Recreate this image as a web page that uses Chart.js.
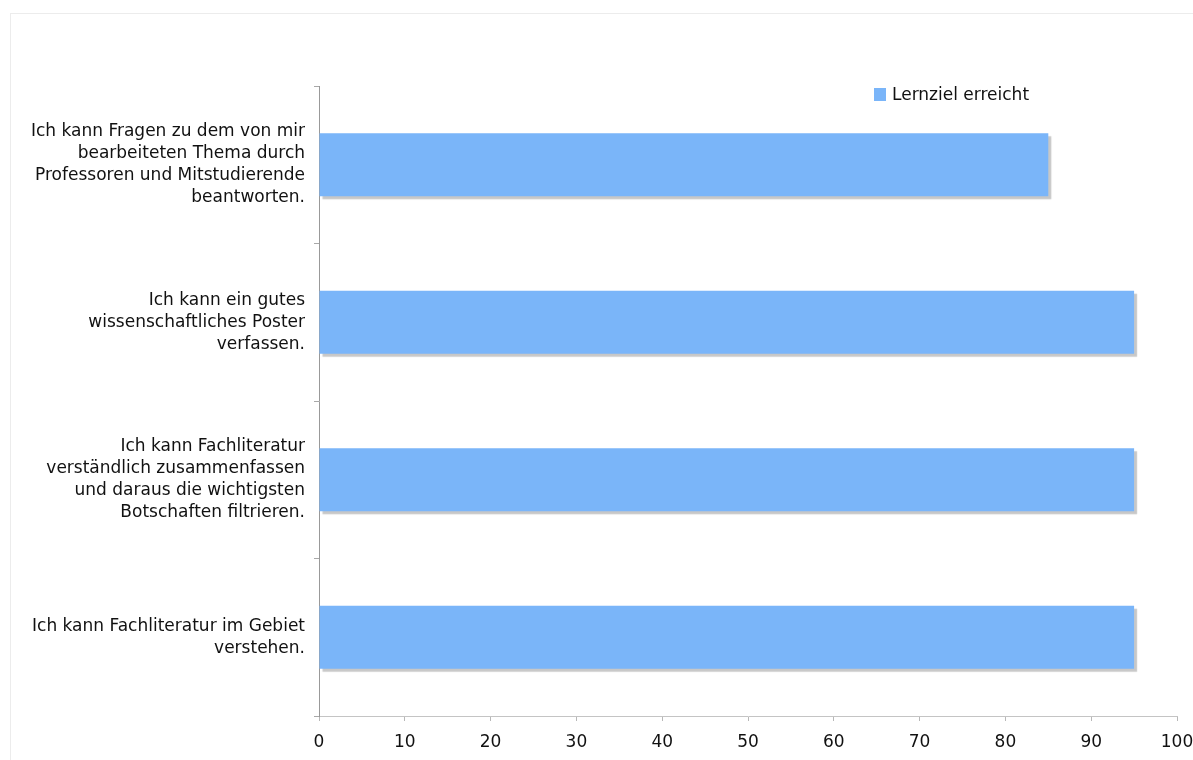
<!DOCTYPE html>
<html lang="de">
<head>
<meta charset="utf-8">
<title>Lernziele</title>
<script src="https://cdn.jsdelivr.net/npm/chart.js@4/dist/chart.umd.min.js"></script>
<style>
  html, body { margin: 0; padding: 0; background: #fff; }
  #rahmen { position: absolute; left: 10px; top: 13px; width: 1400px; height: 1000px; border: 1px solid #ececec; }
  #wrap { position: absolute; left: 0; top: 0; width: 1193px; height: 760px; }
  #legende { position: absolute; left: 874px; top: 84px; font: 17px "DejaVu Sans", Verdana, sans-serif; color: #111; display: flex; align-items: center; }
  #legende span.box { display: inline-block; width: 12px; height: 13px; margin-right: 6px; }
</style>
</head>
<body>
<div id="rahmen"></div>
<div id="wrap"><canvas id="grafik" width="1193" height="760"></canvas></div>
<div id="legende"></div>
<script>
const kategorien = [
  ['Ich kann Fragen zu dem von mir', 'bearbeiteten Thema durch', 'Professoren und Mitstudierende', 'beantworten.'],
  ['Ich kann ein gutes', 'wissenschaftliches Poster', 'verfassen.'],
  ['Ich kann Fachliteratur', 'verständlich zusammenfassen', 'und daraus die wichtigsten', 'Botschaften filtrieren.'],
  ['Ich kann Fachliteratur im Gebiet', 'verstehen.']
];
const erreicht = [85, 95, 95, 95];
const serienName = 'Lernziel erreicht';
const farbe = '#7ab5f9';

const schrift = { family: '"DejaVu Sans", Verdana, sans-serif', size: 17 };

// Schatten unter den Balken
const schatten = {
  id: 'schatten',
  beforeDatasetsDraw(chart) {
    const c = chart.ctx;
    c.save();
    c.shadowColor = 'rgba(0,0,0,0.22)';
    c.shadowOffsetX = 3;
    c.shadowOffsetY = 3;
    c.shadowBlur = 1;
  },
  afterDatasetsDraw(chart) {
    chart.ctx.restore();
  }
};

const grafik = new Chart(document.getElementById('grafik'), {
  type: 'bar',
  data: {
    labels: kategorien,
    datasets: [{
      label: serienName,
      data: erreicht,
      backgroundColor: farbe,
      barPercentage: 0.4,
      categoryPercentage: 1
    }]
  },
  options: {
    indexAxis: 'y',
    responsive: false,
    animation: false,
    layout: { padding: { top: 86, right: 16, left: 0, bottom: 0 } },
    plugins: { legend: { display: false }, tooltip: { enabled: false } },
    scales: {
      x: {
        min: 0, max: 100,
        ticks: { stepSize: 10, color: '#111', font: schrift, padding: 11 },
        grid: { drawOnChartArea: false, tickLength: 5, color: '#b8b8b8' },
        border: { color: '#c4c4c4' },
        afterFit(s) { s.height = 44; s.paddingLeft = 0; s.paddingRight = 0; }
      },
      y: {
        ticks: { color: '#111', font: { ...schrift, lineHeight: 1.3 }, padding: 9 },
        grid: { drawOnChartArea: false, tickLength: 5, color: '#a8a8a8', offset: true },
        border: { color: '#999' },
        afterFit(s) { s.width = 319; s.paddingTop = 0; s.paddingBottom = 0; }
      }
    }
  },
  plugins: [schatten]
});

// Legende
const leg = document.getElementById('legende');
grafik.data.datasets.forEach(ds => {
  const box = document.createElement('span');
  box.className = 'box';
  box.style.background = ds.backgroundColor;
  leg.appendChild(box);
  leg.appendChild(document.createTextNode(ds.label));
});
</script>
</body>
</html>
